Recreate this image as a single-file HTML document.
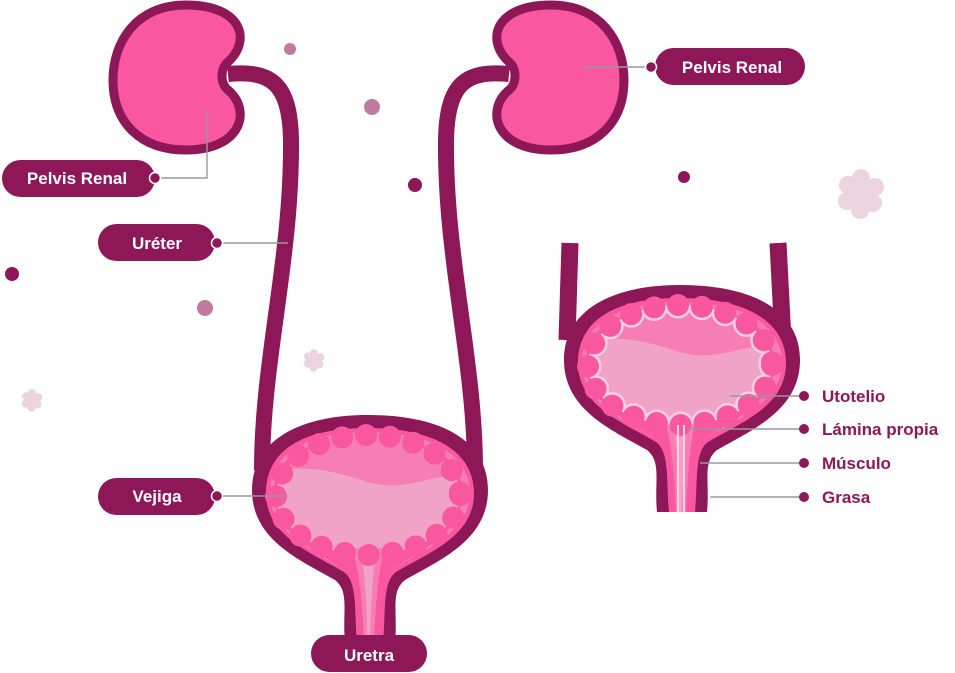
<!DOCTYPE html>
<html><head><meta charset="utf-8"><style>
html,body{margin:0;padding:0;background:#fff;}
svg{display:block;}
text{font-family:"Liberation Sans",sans-serif;font-weight:bold;}
</style></head><body>
<svg width="955" height="673" viewBox="0 0 955 673" xmlns="http://www.w3.org/2000/svg">
<defs>
  <path id="kid" d="M228,62 C252,40 242,5 186,5 C136,5 113,42 113,80 C113,122 140,150 186,150 C242,150 252,110 228,90 C220,84 220,68 228,62 Z"/>
  <clipPath id="cl"><ellipse cx="368" cy="495" rx="92" ry="60"/></clipPath>
  <g id="bladbase">
    <path d="M368,415 C440,415 488,440 488,490 C488,540 440,560 405,580 C390,592 398,612 395,642 L345,642 C342,612 350,592 335,580 C300,560 252,540 252,490 C252,440 300,415 368,415 Z" fill="#8e1757"/>
    <path d="M368,428 C435,428 474,452 474,493 C474,536 430,552 396,572 C382,582 386,612 383,642 L357,642 C354,612 358,582 344,572 C310,552 266,536 266,493 C266,452 300,428 368,428 Z" fill="#f957a0"/>
    <path d="M368,432 C430,432 470,454 470,493 C470,530 430,548 394,568 L390,570 C430,546 462,530 462,493 C462,456 428,438 368,438 C308,438 274,456 274,493 C274,530 306,546 346,570 L342,568 C306,548 270,530 270,493 C270,454 306,432 368,432Z" fill="#f77db5"/>
    <ellipse cx="368" cy="495" rx="92" ry="60" fill="#f77db5"/>
    <path d="M260,476 C300,462 330,470 368,482 C410,494 430,470 480,476 L480,570 L260,570 Z" fill="#f0a3c4" clip-path="url(#cl)"/>
    <path d="M352,548 L384,548 C378,575 376,600 374,642 L364,642 C362,600 360,575 352,548 Z" fill="#f77db5"/>
    <path d="M360,548 L376,548 C372,580 371,610 370,642 L367,642 C367,610 366,580 360,548 Z" fill="#f0a3c4"/>
  </g>
</defs>

<!-- decorations -->
<circle cx="290" cy="49" r="6" fill="#c07aa0"/>
<circle cx="372" cy="107" r="8" fill="#c07aa0"/>
<circle cx="415" cy="185" r="7" fill="#8e1757"/>
<circle cx="12" cy="274" r="7" fill="#8e1757"/>
<circle cx="205" cy="308" r="8" fill="#c07aa0"/>
<circle cx="684" cy="177" r="6" fill="#8e1757"/>
<g fill="#ebd3e0">
  <g transform="translate(861,193)"><circle r="16"/><circle cx="0" cy="-15" r="9"/><circle cx="14" cy="-6" r="9"/><circle cx="12" cy="10" r="9"/><circle cx="-1" cy="17" r="9"/><circle cx="-14" cy="8" r="9"/><circle cx="-13" cy="-8" r="9"/></g>
  <g transform="translate(314,360) scale(0.45)"><circle r="16"/><circle cx="0" cy="-15" r="9"/><circle cx="14" cy="-6" r="9"/><circle cx="12" cy="10" r="9"/><circle cx="-1" cy="17" r="9"/><circle cx="-14" cy="8" r="9"/><circle cx="-13" cy="-8" r="9"/></g>
  <g transform="translate(32,400) scale(0.45)"><circle r="16"/><circle cx="0" cy="-15" r="9"/><circle cx="14" cy="-6" r="9"/><circle cx="12" cy="10" r="9"/><circle cx="-1" cy="17" r="9"/><circle cx="-14" cy="8" r="9"/><circle cx="-13" cy="-8" r="9"/></g>
</g>

<!-- ureters -->
<path d="M228,74 C272,70 290,84 291,140 C292,260 262,360 262,470" fill="none" stroke="#8e1757" stroke-width="16"/>
<path d="M509,74 C465,70 447,84 446,140 C445,260 475,360 475,470" fill="none" stroke="#8e1757" stroke-width="16"/>

<!-- kidneys -->
<use href="#kid" fill="#f957a0" stroke="#8e1757" stroke-width="9"/>
<use href="#kid" transform="translate(737,0) scale(-1,1)" fill="#f957a0" stroke="#8e1757" stroke-width="9"/>

<!-- left bladder -->
<use href="#bladbase"/>
<ellipse cx="368" cy="495" rx="92" ry="60" fill="none" stroke="#f957a0" stroke-width="22" stroke-dasharray="0 24" stroke-linecap="round"/>

<!-- right bladder -->
<path d="M570,243 L567,340" stroke="#8e1757" stroke-width="17"/>
<path d="M778,243 L783,340" stroke="#8e1757" stroke-width="17"/>
<g transform="translate(312,-130)">
  <use href="#bladbase"/>
  <g clip-path="url(#cl)">
    <ellipse cx="368" cy="495" rx="92" ry="60" fill="none" stroke="#fbd0e2" stroke-width="5"/>
    <ellipse cx="368" cy="495" rx="92" ry="60" fill="none" stroke="#fbd0e2" stroke-width="27" stroke-dasharray="0 24" stroke-linecap="round"/>
  </g>
  <ellipse cx="368" cy="495" rx="92" ry="60" fill="none" stroke="#f957a0" stroke-width="22" stroke-dasharray="0 24" stroke-linecap="round"/>
  <path d="M366,555 L366,642 M372,555 L372,642" stroke="#fbd0e2" stroke-width="2"/>
</g>

<!-- leaders -->
<g stroke="#999" stroke-width="1.4" fill="none">
  <path d="M207,110 L207,178 L156,178"/>
  <path d="M216,243 L288,243"/>
  <path d="M216,496 L288,496"/>
  <path d="M582,67 L650,67"/>
  <path d="M730,396 L802,396"/>
  <path d="M688,429 L802,429"/>
  <path d="M700,463 L802,463"/>
  <path d="M710,497 L802,497"/>
</g>

<!-- pills -->
<g fill="#8e1757">
  <rect x="2" y="160" width="153" height="37" rx="18.5"/>
  <rect x="98" y="224" width="117" height="37" rx="18.5"/>
  <rect x="98" y="478" width="117" height="37" rx="18.5"/>
  <rect x="311" y="635" width="116" height="37" rx="18.5"/>
  <rect x="655" y="48" width="150" height="37" rx="18.5"/>
</g>
<g fill="#8e1757" stroke="#fff" stroke-width="1.5">
  <circle cx="155" cy="178" r="5.5"/>
  <circle cx="217" cy="243" r="5.5"/>
  <circle cx="217" cy="496" r="5.5"/>
  <circle cx="651" cy="67" r="5.5"/>
</g>
<g fill="#8e1757">
  <circle cx="804" cy="396" r="5"/>
  <circle cx="804" cy="429" r="5"/>
  <circle cx="804" cy="463" r="5"/>
  <circle cx="804" cy="497" r="5"/>
</g>
<g fill="#fff" font-size="17" text-anchor="middle">
  <text x="77" y="184">Pelvis Renal</text>
  <text x="157" y="249">Uréter</text>
  <text x="157" y="502">Vejiga</text>
  <text x="369" y="661">Uretra</text>
  <text x="732" y="73">Pelvis Renal</text>
</g>
<g fill="#8e1757" font-size="17">
  <text x="822" y="402">Utotelio</text>
  <text x="822" y="435">Lámina propia</text>
  <text x="822" y="469">Músculo</text>
  <text x="822" y="503">Grasa</text>
</g>
</svg>
</body></html>
